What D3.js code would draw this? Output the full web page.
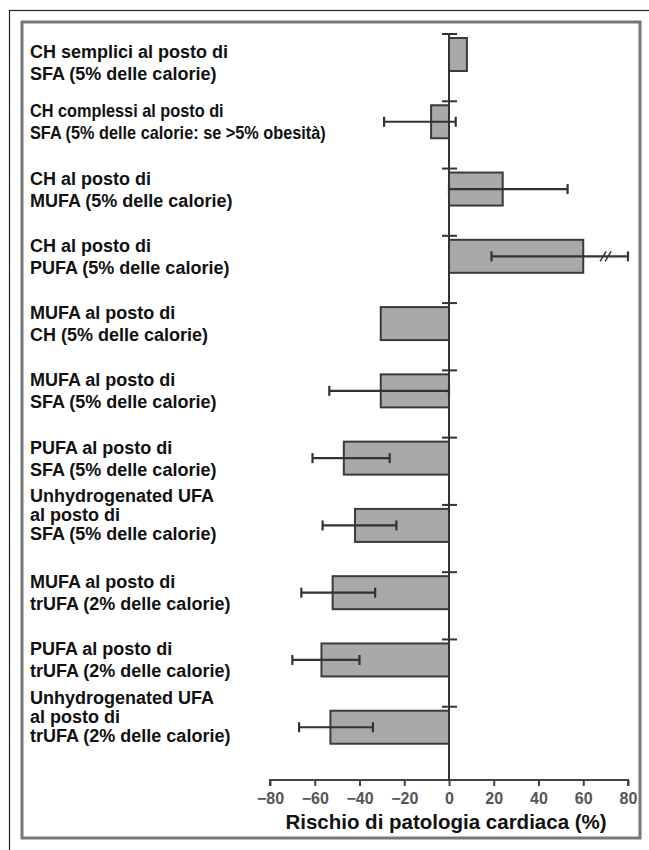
<!DOCTYPE html>
<html>
<head>
<meta charset="utf-8">
<script src="https://cdn.jsdelivr.net/npm/d3@7"></script>
<style>
  html, body { margin: 0; padding: 0; background: #fff; }
  svg { display: block; }
</style>
</head>
<body>
<svg id="chart" width="649" height="850"></svg>
<script>
// ---- data ----
const categories = [
  ["CH semplici al posto di", "SFA (5% delle calorie)"],
  ["CH complessi al posto di", "SFA (5% delle calorie: se >5% obesità)"],
  ["CH al posto di", "MUFA (5% delle calorie)"],
  ["CH al posto di", "PUFA (5% delle calorie)"],
  ["MUFA al posto di", "CH (5% delle calorie)"],
  ["MUFA al posto di", "SFA (5% delle calorie)"],
  ["PUFA al posto di", "SFA (5% delle calorie)"],
  ["Unhydrogenated UFA", "al posto di", "SFA (5% delle calorie)"],
  ["MUFA al posto di", "trUFA (2% delle calorie)"],
  ["PUFA al posto di", "trUFA (2% delle calorie)"],
  ["Unhydrogenated UFA", "al posto di", "trUFA (2% delle calorie)"]
];
const values = [8, -8, 24, 60, -30.5, -30.5, -47, -42, -52, -57, -53];
const ciLow  = [null, -29, 0, 19, null, -53.5, -61, -56.5, -66, -70, -67];
const ciHigh = [null, 3, 53, 80, null, 0, -26.5, -23.5, -33, -40, -34];
const xTicks = [-80, -60, -40, -20, 0, 20, 40, 60, 80];
const xTitle = "Rischio di patologia cardiaca (%)";
const breakAt = [null, null, null, 70, null, null, null, null, null, null, null];

// ---- drawing ----
const svg = d3.select("#chart");
const font = "'Liberation Sans', Arial, Helvetica, sans-serif";

// frames
svg.append("rect").attr("x", 9.5).attr("y", 10.5).attr("width", 700).attr("height", 900)
  .attr("fill", "none").attr("stroke", "#222").attr("stroke-width", 1.2);
svg.append("rect").attr("x", 22).attr("y", 22).attr("width", 618).attr("height", 816)
  .attr("fill", "none").attr("stroke", "#777").attr("stroke-width", 3);

const x = d3.scaleLinear().domain([-80, 80]).range([270, 628]);
const y = d3.scaleBand().domain(d3.range(categories.length)).range([34, 774]).padding(0);
const barOff = 4, barH = 33;
const axisY = 780;

// x axis
const xAxis = d3.axisBottom(x).tickValues(xTicks).tickSize(6).tickPadding(7)
  .tickFormat(d => d < 0 ? "\u2212" + Math.abs(d) : String(d));
const gx = svg.append("g").attr("transform", `translate(0,${axisY})`).call(xAxis);
gx.select(".domain").attr("stroke", "#444").attr("stroke-width", 2)
  .attr("d", `M${x(-80)},6V0H${x(80)}V6`);
gx.selectAll(".tick line").attr("stroke", "#444").attr("stroke-width", 2);
gx.selectAll(".tick text").attr("fill", "#555").attr("font-family", font)
  .attr("font-size", 16).attr("font-weight", "bold");

svg.append("text").attr("x", 446).attr("y", 829).attr("text-anchor", "middle")
  .attr("font-family", font).attr("font-size", 20.5).attr("font-weight", "bold")
  .attr("fill", "#111").text(xTitle);

// bars
const idx = d3.range(categories.length);
svg.append("g").selectAll("rect").data(idx).join("rect")
  .attr("x", i => x(Math.min(0, values[i])))
  .attr("y", i => y(i) + barOff)
  .attr("width", i => Math.abs(x(values[i]) - x(0)))
  .attr("height", barH)
  .attr("fill", "#a9a9a9").attr("stroke", "#3a3a3a").attr("stroke-width", 2);

// error bars
const eg = svg.append("g").attr("stroke", "#333").attr("stroke-width", 2.2).attr("fill", "none");
idx.filter(i => ciLow[i] !== null).forEach(i => {
  const cy = y(i) + barOff + barH / 2;
  eg.append("line").attr("x1", x(ciLow[i])).attr("x2", x(ciHigh[i])).attr("y1", cy).attr("y2", cy);
  [ciLow[i], ciHigh[i]].forEach(v => {
    eg.append("line").attr("x1", x(v)).attr("x2", x(v)).attr("y1", cy - 5).attr("y2", cy + 5);
  });
  if (breakAt[i] !== null) {
    const bx = x(breakAt[i]);
    [-2.5, 2.5].forEach(o => {
      eg.append("line").attr("x1", bx + o - 3).attr("x2", bx + o + 3)
        .attr("y1", cy + 5).attr("y2", cy - 5).attr("stroke-width", 1.5);
    });
  }
});

// zero line and category ticks
svg.append("line").attr("x1", x(0)).attr("x2", x(0)).attr("y1", y(0)).attr("y2", axisY)
  .attr("stroke", "#333").attr("stroke-width", 2);
svg.append("g").selectAll("line").data(idx).join("line")
  .attr("x1", x(0) - 7).attr("x2", x(0) + 8)
  .attr("y1", i => y(i)).attr("y2", i => y(i))
  .attr("stroke", "#333").attr("stroke-width", 2);

// category labels
const labelX = 30, labelMaxW = 296;
const lg = svg.append("g").attr("font-family", font).attr("font-size", 18)
  .attr("font-weight", "bold").attr("fill", "#111");
idx.forEach(i => {
  const lines = categories[i];
  const three = lines.length === 3;
  const lh = three ? 19 : 22;
  const cy = y(i) + barOff + barH / 2 + (three ? -11 : (i === 0 ? 8 : 0));
  const first = cy - (lines.length - 1) * lh / 2 + 6.5;
  const t = lg.append("text");
  lines.forEach((s, k) => {
    t.append("tspan").attr("x", labelX).attr("y", first + k * lh).text(s);
  });
  const w = d3.max(t.selectAll("tspan").nodes(), n => n.getComputedTextLength());
  if (w > labelMaxW) {
    const k = labelMaxW / w;
    t.attr("transform", `translate(${labelX},0) scale(${k},1) translate(${-labelX},0)`);
  }
});
</script>
</body>
</html>
